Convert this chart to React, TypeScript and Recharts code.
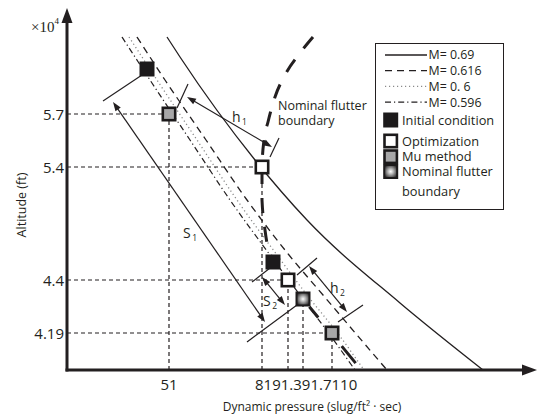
import React from 'react';
import { ComposedChart, Line, Scatter, XAxis, YAxis, ReferenceLine, Legend, Label } from 'recharts';

const FONT = '"Open Sans", "Noto Sans", sans-serif';
const INK = '#231f20';

// ---- axis ticks (schematic positions, labelled with the figure's values)
const xTickValues = [102, 195, 221, 236, 265];
const xTickLabels = ['51', '81', '91.3', '91.7', '110'];
const yTickValues = [37, 90, 203, 256];
const yTickLabels = ['4.19', '4.4', '5.4', '5.7'];

// ---- Mach curves
const curveM069 = [
  { x: 100, y: 333 }, { x: 113, y: 313 }, { x: 188, y: 210 }, { x: 240, y: 150 }, { x: 333, y: 67 }, { x: 416, y: 0 },
];
const curveM0616 = [
  { x: 70, y: 333 }, { x: 98, y: 290 }, { x: 139, y: 230 }, { x: 180, y: 170 }, { x: 222, y: 115 }, { x: 256, y: 75 }, { x: 290, y: 35 }, { x: 320, y: 0 },
];
const curveM06 = [
  { x: 62, y: 333 }, { x: 90, y: 290 }, { x: 130, y: 230 }, { x: 170, y: 170 }, { x: 210, y: 115 }, { x: 240, y: 75 }, { x: 272, y: 35 }, { x: 297, y: 0 },
];
const curveM0596 = [
  { x: 55, y: 333 }, { x: 83, y: 290 }, { x: 123, y: 230 }, { x: 163, y: 170 }, { x: 203, y: 115 }, { x: 233, y: 75 }, { x: 263, y: 35 }, { x: 288, y: 0 },
];
const nominalBoundaryUpper = [
  { x: 246, y: 333 }, { x: 233, y: 317 }, { x: 218, y: 295 }, { x: 208, y: 273 }, { x: 201, y: 248 }, { x: 197, y: 230 },
  { x: 195, y: 204 }, { x: 195, y: 170 }, { x: 198, y: 140 }, { x: 205, y: 112 },
];
const nominalBoundaryLower = [{ x: 236, y: 71 }, { x: 291, y: 4 }];

// ---- markers
const initialPoints = [{ x: 80, y: 301 }, { x: 206, y: 108 }];
const optimizationPoints = [{ x: 195, y: 203 }, { x: 221, y: 90 }];
const muPoints = [{ x: 102, y: 256 }, { x: 265, y: 37 }];
const nominalPoints = [{ x: 236, y: 71 }];

// ---- dashed guides from the axes to the markers
const hGuides = [{ y: 256, toX: 102 }, { y: 203, toX: 195 }, { y: 90, toX: 221 }, { y: 37, toX: 265 }];
const vGuides = [{ x: 102, toY: 256 }, { x: 195, toY: 203 }, { x: 221, toY: 90 }, { x: 236, toY: 71 }, { x: 265, toY: 37 }];

// ---- thin perpendicular ticks and double arrows (S1, S2, h1, h2)
const perpendiculars = [
  [{ x: 36, y: 269 }, { x: 75, y: 295 }],
  [{ x: 110, y: 262 }, { x: 121, y: 286 }],
  [{ x: 203, y: 213 }, { x: 212, y: 232 }],
  [{ x: 185, y: 88 }, { x: 203, y: 102 }],
  [{ x: 180, y: 28 }, { x: 230, y: 65 }],
  [{ x: 230, y: 95 }, { x: 250, y: 112 }],
  [{ x: 271, y: 48 }, { x: 296, y: 65 }],
];
const doubleArrows = [
  [{ x: 46, y: 268 }, { x: 198, y: 48 }],
  [{ x: 120, y: 273 }, { x: 205, y: 223 }],
  [{ x: 195, y: 93 }, { x: 218, y: 65 }],
  [{ x: 242, y: 104 }, { x: 280, y: 58 }],
];

// ---- text annotations
const annotations = [
  { x: 165, y: 248, text: 'h', sub: '1' },
  { x: 116, y: 132, text: 'S', sub: '1' },
  { x: 196, y: 64, text: 'S', sub: '2' },
  { x: 263, y: 77, text: 'h', sub: '2' },
  { x: 211, y: 260, text: 'Nominal flutter' },
  { x: 211, y: 245, text: 'boundary' },
];

// ---- legend
const legendLines = [
  { label: 'M= 0.69', stroke: INK, dash: undefined as string | undefined },
  { label: 'M= 0.616', stroke: INK, dash: '7 5' },
  { label: 'M= 0. 6', stroke: '#8a8a8a', dash: '1.2 2.8' },
  { label: 'M= 0.596', stroke: INK, dash: '6 3 1.2 3' },
];
const legendMarkers = [
  { kind: 'initial', lines: ['Initial condition'] },
  { kind: 'opt', lines: ['Optimization'] },
  { kind: 'mu', lines: ['Mu method'] },
  { kind: 'nominal', lines: ['Nominal flutter', 'boundary'] },
];

const markerStyle: Record<string, { fill: string; stroke: string; sw: number; size: number }> = {
  initial: { fill: '#1c1a1b', stroke: '#1c1a1b', sw: 0, size: 15 },
  opt: { fill: '#ffffff', stroke: '#1c1a1b', sw: 2.6, size: 15 },
  mu: { fill: '#a7a7a8', stroke: '#1c1a1b', sw: 2.6, size: 15 },
  nominal: { fill: 'url(#nomGrad)', stroke: '#1c1a1b', sw: 2, size: 15 },
};

const MarkerRect = ({ cx, cy, kind, gradId }: any) => {
  const s = markerStyle[kind];
  const inner = s.size - s.sw;
  const fill = kind === 'nominal' ? `url(#${gradId})` : s.fill;
  return (
    <g>
      {kind === 'nominal' && (
        <defs>
          <radialGradient id={gradId} cx="50%" cy="50%" r="60%">
            <stop offset="0%" stopColor="#ffffff" />
            <stop offset="35%" stopColor="#b5b5b5" />
            <stop offset="100%" stopColor="#1c1a1b" />
          </radialGradient>
        </defs>
      )}
      <rect x={cx - inner / 2} y={cy - inner / 2} width={inner} height={inner} fill={fill}
        stroke={s.sw ? s.stroke : 'none'} strokeWidth={s.sw} />
    </g>
  );
};

const makeMarkerShape = (kind: string) => (props: any) => (
  <MarkerRect cx={props.cx} cy={props.cy} kind={kind} gradId={`nomGradPlot`} />
);

const head = (tx: number, ty: number, ang: number, len: number, half: number, fill: string) => {
  const bx = tx - len * Math.cos(ang);
  const by = ty - len * Math.sin(ang);
  const px = -Math.sin(ang) * half;
  const py = Math.cos(ang) * half;
  return <polygon points={`${tx},${ty} ${bx + px},${by + py} ${bx - px},${by - py}`} fill={fill} />;
};

const DoubleArrowShape = (props: any) => {
  const { x1, y1, x2, y2 } = props;
  const ang = Math.atan2(y2 - y1, x2 - x1);
  const len = 9;
  const sx = x1 + (len - 1) * Math.cos(ang), sy = y1 + (len - 1) * Math.sin(ang);
  const ex = x2 - (len - 1) * Math.cos(ang), ey = y2 - (len - 1) * Math.sin(ang);
  return (
    <g>
      <line x1={sx} y1={sy} x2={ex} y2={ey} stroke={INK} strokeWidth={1.2} />
      {head(x2, y2, ang, len, 3.2, INK)}
      {head(x1, y1, ang + Math.PI, len, 3.2, INK)}
    </g>
  );
};

const AxisArrowShape = (props: any) => {
  const { x1, y1, x2, y2 } = props;
  const ang = Math.atan2(y2 - y1, x2 - x1);
  const len = 15;
  const ex = x2 - (len - 2) * Math.cos(ang), ey = y2 - (len - 2) * Math.sin(ang);
  const sx = x1 - 1.5 * Math.cos(ang), sy = y1 - 1.5 * Math.sin(ang);
  return (
    <g>
      <line x1={sx} y1={sy} x2={ex} y2={ey} stroke={INK} strokeWidth={3} />
      {head(x2, y2, ang, len, 5.5, INK)}
    </g>
  );
};

const XTick = (props: any) => {
  const { x, y, payload } = props;
  const i = xTickValues.indexOf(payload.value);
  const style = { fontFamily: FONT, fontSize: 15, fill: INK };
  if (i === 0) {
    return <text x={x} y={y + 20} textAnchor="middle" {...style}>{xTickLabels[0]}</text>;
  }
  if (i === 1) {
    return (
      <text x={x - 7} y={y + 20} textAnchor="start" {...style}>
        {xTickLabels.slice(1).map((l, k) => <tspan key={k}>{l}</tspan>)}
      </text>
    );
  }
  return <g />;
};

const YTick = (props: any) => {
  const { x, y, payload } = props;
  const i = yTickValues.indexOf(payload.value);
  return (
    <text x={x} y={y} dy={5.5} textAnchor="end" fontFamily={FONT} fontSize={15} fill={INK}>
      {yTickLabels[i]}
    </text>
  );
};

const AnnotationShape = (props: any) => {
  const { cx, cy, payload } = props;
  if (payload.sub) {
    return (
      <text x={cx} y={cy} fontFamily={FONT} fontSize={14} fill={INK}>
        {payload.text}
        <tspan fontSize={8.5} dx={1.5} dy={3}>{payload.sub}</tspan>
      </text>
    );
  }
  return <text x={cx} y={cy} fontFamily={FONT} fontSize={12.5} fill={INK}>{payload.text}</text>;
};

const renderLegend = () => (
  <div style={{ width: 129, height: 167, border: `1px solid ${INK}`, boxSizing: 'border-box', background: '#fff' }}>
    <svg width={127} height={165} style={{ display: 'block' }}>
      {legendLines.map((d, i) => {
        const yy = 11 + i * 15.7;
        return (
          <g key={d.label}>
            <line x1={9} x2={51} y1={yy} y2={yy} stroke={d.stroke} strokeWidth={1.3} strokeDasharray={d.dash} />
            <text x={52.5} y={yy} dy="0.36em" fontFamily={FONT} fontSize={12.4} fill={INK}>{d.label}</text>
          </g>
        );
      })}
      {legendMarkers.map((m, i) => {
        const ys = [76, 97, 112.7, 127.5];
        const yy = ys[i];
        return (
          <g key={m.kind}>
            <MarkerRect cx={14.7} cy={yy} kind={m.kind} gradId="nomGradLegend" />
            {m.lines.map((t, k) => (
              <text key={k} x={26} y={yy + k * 19.5} dy="0.36em" fontFamily={FONT} fontSize={12.8} fill={INK}>{t}</text>
            ))}
          </g>
        );
      })}
    </svg>
  </div>
);

export default function App() {
  return (
    <div style={{ position: 'absolute', left: 0, top: 0, width: 540, height: 418, background: '#fff' }}>
      <ComposedChart width={540} height={418} margin={{ top: 8, right: 3, bottom: 18, left: 7 }}>
        <XAxis type="number" dataKey="x" domain={[0, 470]} allowDataOverflow ticks={xTickValues} interval={0}
          axisLine={false} tickLine={false} tickSize={0} tickMargin={0} height={30} tick={<XTick />}>
          <Label content={() => (
            <text x={312} y={411} textAnchor="middle" fontFamily={FONT} fontSize={12} fill={INK}>
              Dynamic pressure (slug/ft² · sec)
            </text>
          )} />
        </XAxis>
        <YAxis type="number" dataKey="y" domain={[0, 362]} allowDataOverflow ticks={yTickValues} interval={0}
          axisLine={false} tickLine={false} tickSize={0} tickMargin={3} width={60} tick={<YTick />}>
          <Label content={() => (
            <text x={26} y={205} transform="rotate(-90 26 205)" textAnchor="middle" fontFamily={FONT} fontSize={12.5} fill={INK}>
              Altitude (ft)
            </text>
          )} />
          <Label content={() => (
            <text x={31} y={32} fontFamily='"Liberation Serif", serif' fontSize={15} fill={INK}>
              ×10<tspan fontSize={9} dy={-8}>4</tspan>
            </text>
          )} />
        </YAxis>

        <Line data={curveM069} dataKey="y" type="monotone" dot={false} stroke={INK} strokeWidth={1.3} isAnimationActive={false} />
        <Line data={curveM0616} dataKey="y" type="monotone" dot={false} stroke={INK} strokeWidth={1.3} strokeDasharray="7 5" isAnimationActive={false} />
        <Line data={curveM06} dataKey="y" type="monotone" dot={false} stroke="#8a8a8a" strokeWidth={1.3} strokeDasharray="1.2 2.8" isAnimationActive={false} />
        <Line data={curveM0596} dataKey="y" type="monotone" dot={false} stroke={INK} strokeWidth={1.2} strokeDasharray="6 3 1.2 3" isAnimationActive={false} />
        <Line data={nominalBoundaryUpper} dataKey="y" type="monotone" dot={false} stroke={INK} strokeWidth={3} strokeDasharray="15 14" isAnimationActive={false} />
        <Line data={nominalBoundaryLower} dataKey="y" type="linear" dot={false} stroke={INK} strokeWidth={3} strokeDasharray="0 10 14 37 22 100" isAnimationActive={false} />

        {hGuides.map((g, i) => (
          <ReferenceLine key={`h${i}`} segment={[{ x: 0, y: g.y }, { x: g.toX, y: g.y }]} stroke={INK} strokeWidth={1.2} strokeDasharray="4 3" />
        ))}
        {vGuides.map((g, i) => (
          <ReferenceLine key={`v${i}`} segment={[{ x: g.x, y: 0 }, { x: g.x, y: g.toY }]} stroke={INK} strokeWidth={1.2} strokeDasharray="4 3" />
        ))}
        {perpendiculars.map((s, i) => (
          <ReferenceLine key={`p${i}`} segment={s} stroke={INK} strokeWidth={1.2} />
        ))}
        {doubleArrows.map((s, i) => (
          <ReferenceLine key={`a${i}`} segment={s} shape={DoubleArrowShape} />
        ))}
        <ReferenceLine segment={[{ x: 0, y: 0 }, { x: 470, y: 0 }]} shape={AxisArrowShape} />
        <ReferenceLine segment={[{ x: 0, y: 0 }, { x: 0, y: 362 }]} shape={AxisArrowShape} />

        <Scatter data={initialPoints} shape={makeMarkerShape('initial')} isAnimationActive={false} />
        <Scatter data={optimizationPoints} shape={makeMarkerShape('opt')} isAnimationActive={false} />
        <Scatter data={muPoints} shape={makeMarkerShape('mu')} isAnimationActive={false} />
        <Scatter data={nominalPoints} shape={makeMarkerShape('nominal')} isAnimationActive={false} />
        <Scatter data={annotations} shape={AnnotationShape} isAnimationActive={false} />

        <Legend layout="vertical" align="center" verticalAlign="middle" content={renderLegend}
          wrapperStyle={{ left: 375, top: 43, width: 129, height: 167 }} />
      </ComposedChart>
    </div>
  );
}
